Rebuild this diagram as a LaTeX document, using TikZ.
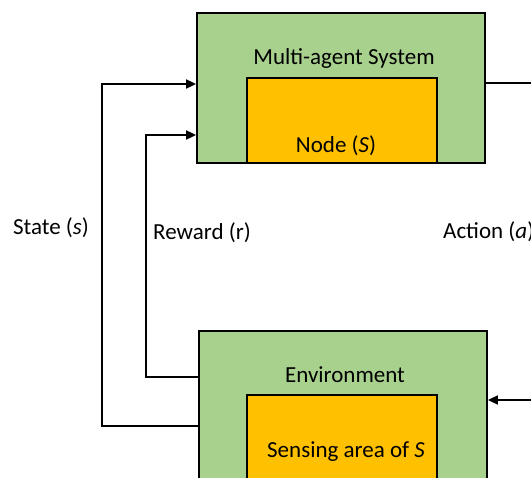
\documentclass[tikz,border=0pt]{standalone}
\usepackage{fontspec}
\setmainfont{Carlito}
\usetikzlibrary{arrows.meta}
\definecolor{boxgreen}{HTML}{A9D18E}
\definecolor{boxorange}{HTML}{FFC000}
\tikzset{
  outerbox/.style={draw=black, line width=1.8pt, fill=boxgreen, rectangle, inner sep=0pt},
  innerbox/.style={draw=black, line width=1.8pt, fill=boxorange, rectangle, inner sep=0pt},
  lbl/.style={font=\fontsize{23}{27}\selectfont, inner sep=0pt, anchor=base},
  conn/.style={line width=1.8pt, draw=black},
  arr/.style={conn, -{Triangle[length=10pt,width=9pt]}}
}
\begin{document}
\begin{tikzpicture}[x=1pt,y=-1pt]
\useasboundingbox (0,0) rectangle (531,478);
\clip (0,0) rectangle (531,478);
% boxes
\node[outerbox, minimum width=288pt, minimum height=150pt] (mas) at (341,88) {};
\node[innerbox, minimum width=190pt, minimum height=85pt] (node) at (342,120.5) {};
\node[outerbox, minimum width=288pt, minimum height=160pt] (env) at (343,411) {};
\node[innerbox, minimum width=190pt, minimum height=100pt] (sense) at (342,445) {};
% labels
\node[lbl] (tmas) at (344,65) {Multi-agent System};
\node[lbl] (tnode) at (336,153) {Node (\textit{S})};
\node[lbl] (tenv) at (345,383) {Environment};
\node[lbl] (tsense) at (346,458) {Sensing area of \textit{S}};
\node[lbl] (tstate) at (51,235) {State (\textit{s})};
\node[lbl] (treward) at (202,240) {Reward (r)};
\node[lbl, anchor=base west] (taction) at (443,239) {Action (\textit{a})};
% connectors
\coordinate (sx) at (102,84);
\coordinate (rx) at (146,135);
\coordinate (ax) at (560,83);
\draw[arr] (env.west |- 0,426) -| (sx) -- (mas.west |- sx);
\draw[arr] (env.west |- 0,377) -| (rx) -- (mas.west |- rx);
\draw[arr] (mas.east |- ax) -- (ax) |- (env.east |- 0,400);
\end{tikzpicture}
\end{document}
